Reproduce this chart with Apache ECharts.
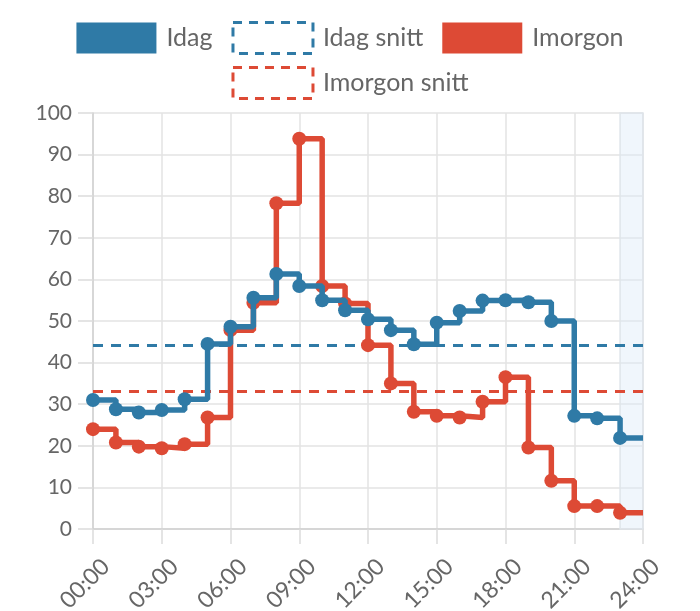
<!DOCTYPE html>
<html>
<head>
<meta charset="utf-8">
<script src="https://cdn.jsdelivr.net/npm/echarts@6/dist/echarts.min.js"></script>
<style>
  html, body { margin: 0; padding: 0; background: #fff; }
  #chart { width: 700px; height: 611px; }
</style>
</head>
<body>
<div id="chart"></div>
<script>
// timmar 00..23, värden
const hours = [0, 1, 2, 3, 4, 5, 6, 7, 8, 9, 10, 11, 12, 13, 14, 15, 16, 17, 18, 19, 20, 21, 22, 23]
const idag = [31.0, 28.8, 28.0, 28.6, 31.2, 44.5, 48.6, 55.6, 61.3, 58.4, 55.0, 52.6,
  50.4, 47.8, 44.4, 49.6, 52.4, 54.9, 55.0, 54.5, 50.0, 27.2, 26.6, 21.9]
const imorgon = [24.0, 20.8, 19.8, 19.4, 20.4, 26.8, 47.8, 54.4, 78.3, 93.8, 58.4, 54.2,
  44.2, 35.0, 28.2, 27.2, 26.8, 30.6, 36.5, 19.6, 11.6, 5.5, 5.5, 3.9]
const currentHour = 23
const dayEnd = 24

const BLUE = '#2f7aa6'
const RED = '#dd4a35'
const FONT = 'Lato'

const mean = arr => arr.reduce((a, b) => a + b, 0) / arr.length

function stepData(values) {
  const d = hours.map((h, i) => [h, values[i]])
  d.push({ value: [dayEnd, values[values.length - 1]], symbol: 'none' })
  return d
}

function avgData(values) {
  const m = mean(values)
  return [[0, m], [dayEnd, m]]
}

const pad = n => (n < 10 ? '0' : '') + n + ':00'

const chart = echarts.init(document.getElementById('chart'))

const legendBase = {
  top: 21,
  left: 'center',
  padding: 0,
  itemWidth: 80,
  itemHeight: 31,
  itemGap: 19,
  textStyle: { fontFamily: FONT, fontSize: 25, color: '#666', padding: [0, 0, 0, 5] }
}

chart.setOption({
  animation: false,
  textStyle: { fontFamily: FONT },
  legend: [
    Object.assign({}, legendBase, {
      data: [
        { name: 'Idag', icon: 'rect', itemStyle: { color: BLUE } },
        { name: 'Idag snitt', icon: 'rect', itemStyle: { color: 'transparent', borderColor: BLUE, borderWidth: 3, borderType: [9, 7] } },
        { name: 'Imorgon', icon: 'rect', itemStyle: { color: RED } }
      ]
    }),
    Object.assign({}, legendBase, {
      top: 66,
      data: [
        { name: 'Imorgon snitt', icon: 'rect', itemStyle: { color: 'transparent', borderColor: RED, borderWidth: 3, borderType: [9, 7] } }
      ]
    })
  ],
  grid: {
    left: 93,
    right: 57,
    top: 113,
    bottom: 82,
    outerBoundsMode: 'none'
  },
  xAxis: {
    type: 'value',
    min: 0,
    max: dayEnd,
    interval: 3,
    axisLine: { show: true, lineStyle: { color: '#d0d0d0', width: 1.5 } },
    axisTick: { show: true, length: 15, lineStyle: { color: '#dcdcdc', width: 1.5 } },
    splitLine: { show: true, lineStyle: { color: '#e3e3e3', width: 1.5 } },
    axisLabel: {
      rotate: 45,
      margin: 21,
      fontSize: 23,
      color: '#666',
      fontFamily: FONT,
      verticalAlign: 'top',
      lineHeight: 36,
      formatter: v => pad(v)
    }
  },
  yAxis: {
    type: 'value',
    min: 0,
    max: 100,
    interval: 10,
    axisLine: { show: true, lineStyle: { color: '#d0d0d0', width: 1.5 } },
    axisTick: { show: true, length: 15, lineStyle: { color: '#dcdcdc', width: 1.5 } },
    splitLine: { show: true, lineStyle: { color: '#e3e3e3', width: 1.5 } },
    axisLabel: { margin: 21, fontSize: 21, color: '#666', fontFamily: FONT }
  },
  series: [
    {
      name: 'Idag',
      type: 'line',
      step: 'end',
      data: stepData(idag),
      symbol: 'circle',
      symbolSize: 14,
      z: 4,
      lineStyle: { color: BLUE, width: 5.5 },
      itemStyle: { color: BLUE },
      markArea: {
        silent: true,
        itemStyle: { color: 'rgba(222,236,248,0.45)', borderColor: '#dfe5ea', borderWidth: 1.5 },
        data: [[{ xAxis: currentHour }, { xAxis: dayEnd }]]
      }
    },
    {
      name: 'Idag snitt',
      type: 'line',
      data: avgData(idag),
      symbol: 'none',
      z: 2,
      lineStyle: { color: BLUE, width: 3, type: [10, 8] },
      itemStyle: { color: BLUE }
    },
    {
      name: 'Imorgon',
      type: 'line',
      step: 'end',
      data: stepData(imorgon),
      symbol: 'circle',
      symbolSize: 14,
      z: 3,
      lineStyle: { color: RED, width: 5.5 },
      itemStyle: { color: RED }
    },
    {
      name: 'Imorgon snitt',
      type: 'line',
      data: avgData(imorgon),
      symbol: 'none',
      z: 2,
      lineStyle: { color: RED, width: 3, type: [10, 8] },
      itemStyle: { color: RED }
    }
  ]
})
</script>
</body>
</html>
